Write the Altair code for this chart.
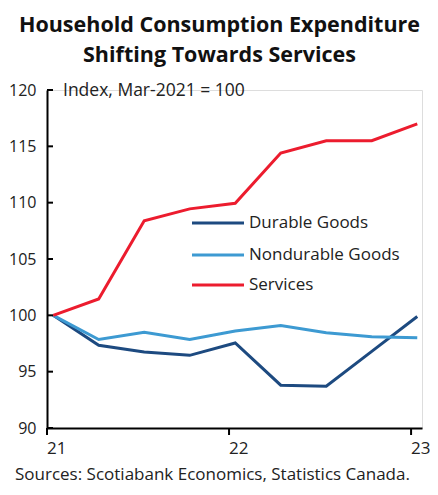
import altair as alt
import pandas as pd

# Quarterly positions (year, 2-digit) from Mar-2021 to Mar-2023
quarters = [21.034, 21.284, 21.534, 21.784, 22.034, 22.284, 22.534, 22.784, 23.034]
durable = [100.0, 97.35, 96.75, 96.45, 97.55, 93.8, 93.7, 96.8, 99.9]
nondurable = [100.0, 97.85, 98.5, 97.85, 98.6, 99.1, 98.45, 98.1, 98.0]
services = [100.0, 101.45, 108.4, 109.45, 109.95, 114.4, 115.5, 115.5, 117.0]

series_names = ["Durable Goods", "Nondurable Goods", "Services"]
series_colors = ["#1d4a80", "#3d9ad2", "#ec1c2e"]
y_ticks = [90, 95, 100, 105, 110, 115, 120]
x_ticks = [21, 22, 23]
x_tick_labels = ["21", "22", "23"]

FONT = "Open Sans"
H = 338

rows = []
for name, vals in zip(series_names, [durable, nondurable, services]):
    for q, v in zip(quarters, vals):
        rows.append({"series": name, "year": q, "value": v})
df = pd.DataFrame(rows)

x_scale = alt.Scale(domain=[21, 23.06], nice=False, zero=False)
y_scale = alt.Scale(domain=[90, 120], nice=False, zero=False)

lines = alt.Chart(df).mark_line(strokeWidth=3, clip=False).encode(
    x=alt.X("year:Q", scale=x_scale,
            axis=alt.Axis(title=None, grid=False, ticks=False, labels=False,
                          domainColor="black", domainWidth=2)),
    y=alt.Y("value:Q", scale=y_scale,
            axis=alt.Axis(values=y_ticks, tickCount=10, title=None, grid=False,
                          domainColor="black", domainWidth=2, tickSize=0,
                          labelFont=FONT, labelFontSize=16, labelColor="#222",
                          labelPadding=11, labelOverlap=False)),
    color=alt.Color("series:N", scale=alt.Scale(domain=series_names, range=series_colors),
                    legend=None),
    order=alt.Order("year:Q"),
)

# inward y ticks
ytick_df = pd.DataFrame({"v": y_ticks})
yticks = alt.Chart(ytick_df).mark_rule(color="black", strokeWidth=2).encode(
    y=alt.Y("v:Q", scale=y_scale),
    x=alt.value(0), x2=alt.value(6),
)

# outward x ticks and labels
xtick_df = pd.DataFrame({"t": x_ticks, "lab": x_tick_labels})
xticks = alt.Chart(xtick_df).mark_rule(color="black", strokeWidth=2).encode(
    x=alt.X("t:Q", scale=x_scale),
    y=alt.value(H), y2=alt.value(H + 7),
)
xlabels = alt.Chart(xtick_df).mark_text(
    align="left", baseline="top", font=FONT, fontSize=17, color="#222").encode(
    x=alt.X("t:Q", scale=x_scale),
    y=alt.value(H + 13), text="lab:N",
)

layers = [lines, yticks, xticks, xlabels]

# manual legend
legend_y = [133, 165, 195]
for name, col, ly in zip(series_names, series_colors, legend_y):
    layers.append(alt.Chart(pd.DataFrame({"s": [name]})).mark_rule(color=col, strokeWidth=3).encode(
        x=alt.value(145), x2=alt.value(197), y=alt.value(ly)))
    layers.append(alt.Chart(pd.DataFrame({"s": [name]})).mark_text(
        align="left", baseline="middle", font=FONT, fontSize=17, color="#222").encode(
        x=alt.value(202), y=alt.value(ly), text="s:N"))

note = alt.Chart(pd.DataFrame({"t": ["Index, Mar-2021 = 100"]})).mark_text(
    align="left", baseline="alphabetic", font=FONT, fontSize=17.5, color="#222").encode(
    x=alt.value(16), y=alt.value(6), text="t:N")
source = alt.Chart(pd.DataFrame({"t": ["Sources: Scotiabank Economics, Statistics Canada."]})).mark_text(
    align="left", baseline="alphabetic", font=FONT, fontSize=17, color="#222").encode(
    x=alt.value(-32), y=alt.value(H + 52), text="t:N")
layers += [note, source]

chart = alt.layer(*layers).properties(
    width=375, height=H,
    title=alt.Title(["Household Consumption Expenditure", "Shifting Towards Services"],
                    font=FONT, fontSize=21.5, fontWeight="bold", color="#111",
                    anchor="middle", dx=-15, offset=16, lineHeight=30),
    autosize=alt.AutoSizeParams(type="none"),
    padding={"left": 39, "top": 82, "right": 8, "bottom": 59},
).configure_view(stroke=None).configure(background="white")

chart.save("out.html", embed_options={"renderer": "svg", "actions": False})
